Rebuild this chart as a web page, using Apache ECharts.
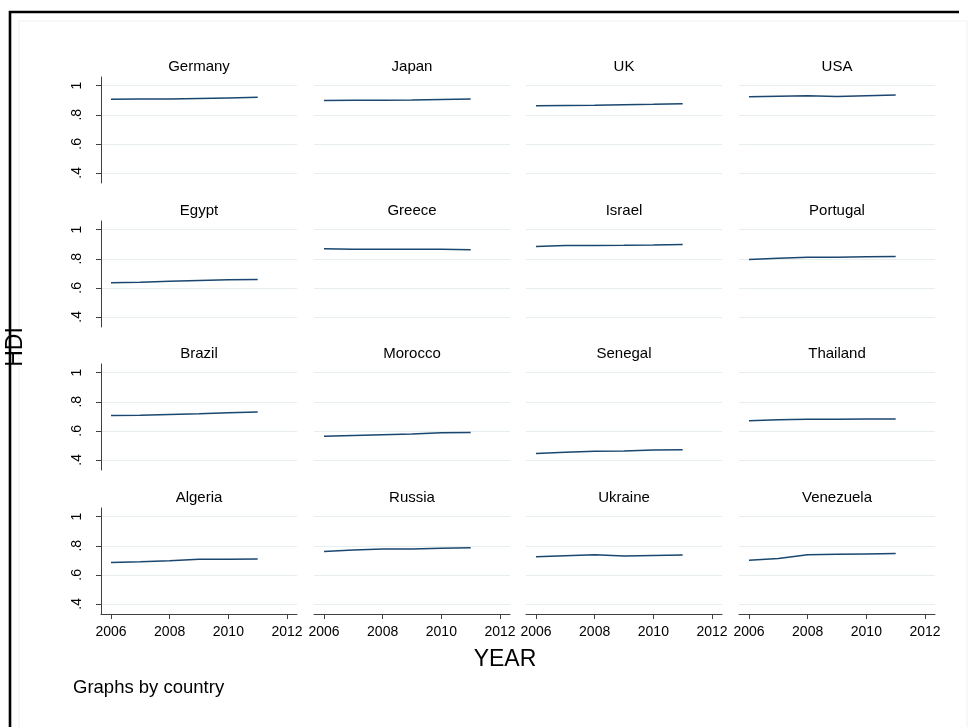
<!DOCTYPE html>
<html>
<head>
<meta charset="utf-8">
<script src="https://cdn.jsdelivr.net/npm/echarts@6/dist/echarts.min.js"></script>
<style>html,body{margin:0;padding:0;background:#fff}#c{width:968px;height:727px}</style>
</head>
<body>
<div id="c"></div>
<script>
// ---- data ----
const countries = ['Germany','Japan','UK','USA','Egypt','Greece','Israel','Portugal','Brazil','Morocco','Senegal','Thailand','Algeria','Russia','Ukraine','Venezuela'];
const years = [2006, 2007, 2008, 2009, 2010, 2011];
const hdiGermany   = [0.907, 0.908, 0.908, 0.912, 0.916, 0.920];
const hdiJapan     = [0.899, 0.900, 0.900, 0.901, 0.905, 0.908];
const hdiUK        = [0.862, 0.864, 0.866, 0.869, 0.872, 0.876];
const hdiUSA       = [0.924, 0.928, 0.931, 0.926, 0.931, 0.936];
const hdiEgypt     = [0.634, 0.638, 0.645, 0.651, 0.655, 0.657];
const hdiGreece    = [0.869, 0.866, 0.866, 0.866, 0.865, 0.862];
const hdiIsrael    = [0.885, 0.891, 0.892, 0.893, 0.895, 0.898];
const hdiPortugal  = [0.795, 0.803, 0.810, 0.810, 0.813, 0.816];
const hdiBrazil    = [0.705, 0.707, 0.713, 0.718, 0.724, 0.730];
const hdiMorocco   = [0.562, 0.568, 0.573, 0.578, 0.586, 0.589];
const hdiSenegal   = [0.444, 0.452, 0.459, 0.460, 0.467, 0.470];
const hdiThailand  = [0.670, 0.676, 0.679, 0.680, 0.681, 0.682];
const hdiAlgeria   = [0.685, 0.690, 0.696, 0.707, 0.707, 0.708];
const hdiRussia    = [0.761, 0.770, 0.778, 0.778, 0.782, 0.786];
const hdiUkraine   = [0.724, 0.732, 0.738, 0.729, 0.733, 0.737];
const hdiVenezuela = [0.701, 0.713, 0.738, 0.741, 0.744, 0.747];
const hdiSeries = [hdiGermany, hdiJapan, hdiUK, hdiUSA, hdiEgypt, hdiGreece, hdiIsrael, hdiPortugal,
                   hdiBrazil, hdiMorocco, hdiSenegal, hdiThailand, hdiAlgeria, hdiRussia, hdiUkraine, hdiVenezuela];
const xTicks = [2006, 2008, 2010, 2012];
const yTicks = [0.4, 0.6, 0.8, 1];
const yTickLabels = ['.4', '.6', '.8', '1'];

// ---- layout ----
const FONT = '"Liberation Sans", Arial, Helvetica, sans-serif';
const colLeft = [101, 314, 526, 739];
const rowTop = [77, 221, 364, 508];
const gridW = 196, gridH = 106;
const axisColor = '#404040';
const lineColor = '#1a476f';
const gridColor = '#e6eeef';

const grids = [], xAxes = [], yAxes = [], series = [], graphics = [];
countries.forEach((name, i) => {
  const row = Math.floor(i / 4), col = i % 4;
  grids.push({ left: colLeft[col], top: rowTop[row], width: gridW, height: gridH,
               containLabel: false, outerBoundsMode: 'none' });
  const bottomRow = row === 3, leftCol = col === 0;
  xAxes.push({
    gridIndex: i, type: 'value', min: 2005.66, max: 2012.34,
    axisLine: { show: bottomRow, onZero: false, lineStyle: { color: axisColor, width: 1 } },
    axisTick: { show: bottomRow, customValues: xTicks, length: 5, lineStyle: { color: axisColor } },
    axisLabel: { show: bottomRow, customValues: xTicks, fontSize: 14, fontFamily: FONT, color: '#000', margin: 11,
                 formatter: v => String(v) },
    splitLine: { show: false }
  });
  yAxes.push({
    gridIndex: i, type: 'value', min: 0.33, max: 1.06,
    axisLine: { show: leftCol, onZero: false, lineStyle: { color: axisColor, width: 1 } },
    axisTick: { show: leftCol, customValues: yTicks, length: 5, lineStyle: { color: axisColor } },
    axisLabel: { show: leftCol, customValues: yTicks, rotate: 90, fontSize: 14, fontFamily: FONT, color: '#000', margin: 17,
                 formatter: v => { const k = yTicks.findIndex(t => Math.abs(t - v) < 1e-6); return k >= 0 ? yTickLabels[k] : ''; } },
    splitLine: { show: true, lineStyle: { color: gridColor, width: 1 } }
  });
  series.push({
    type: 'line', name: name, xAxisIndex: i, yAxisIndex: i,
    data: years.map((y, k) => [y, hdiSeries[i][k]]),
    showSymbol: false, symbol: 'none', smooth: false,
    lineStyle: { color: lineColor, width: 1.5 }, silent: true, animation: false
  });
  graphics.push({
    type: 'text', x: colLeft[col] + gridW / 2, y: rowTop[row] - 10,
    style: { text: name, fontSize: 15, fontFamily: FONT, fill: '#000', align: 'center', verticalAlign: 'middle' }
  });
});

// frame and global labels
graphics.push({ type: 'rect', shape: { x: 19, y: 21, width: 948, height: 720 },
  style: { fill: 'none', stroke: '#eef3f3', lineWidth: 1 }, z: 0 });
graphics.push({ type: 'text', x: 505, y: 660, style: { text: 'YEAR', fontSize: 23, fontFamily: FONT, fill: '#000', align: 'center', verticalAlign: 'middle' } });
graphics.push({ type: 'text', x: 73, y: 688, style: { text: 'Graphs by country', fontSize: 18.5, fontFamily: FONT, fill: '#000', align: 'left', verticalAlign: 'middle' } });
graphics.push({ type: 'text', x: 16, y: 347, rotation: Math.PI / 2, style: { text: 'HDI', fontSize: 23, fontFamily: FONT, fill: '#000', align: 'center', verticalAlign: 'middle' }, z: 5 });
graphics.push({ type: 'polyline', shape: { points: [[10, 727], [10, 12], [959, 12]] },
  style: { fill: 'none', stroke: '#000', lineWidth: 2.6 }, z: 10 });

const chart = echarts.init(document.getElementById('c'), null, { renderer: 'canvas' });
chart.setOption({
  backgroundColor: '#ffffff',
  animation: false,
  grid: grids, xAxis: xAxes, yAxis: yAxes, series: series,
  graphic: graphics
});
</script>
</body>
</html>
